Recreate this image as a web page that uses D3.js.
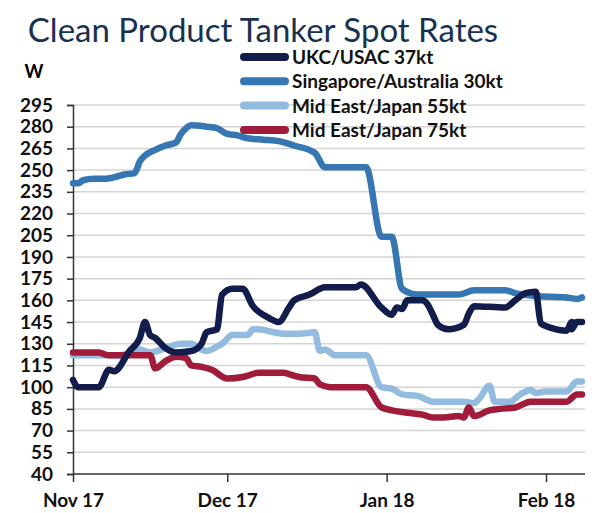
<!DOCTYPE html>
<html>
<head>
<meta charset="utf-8">
<script src="https://cdn.jsdelivr.net/npm/d3@7"></script>
<style>
  body { margin: 0; background: #fff; }
  text { font-family: Lato, "Open Sans", sans-serif; }
</style>
</head>
<body>
<div id="chart"></div>
<script>
// chart values
var seriesNames = ["UKC/USAC 37kt", "Singapore/Australia 30kt", "Mid East/Japan 55kt", "Mid East/Japan 75kt"];
var seriesColors = ["#131d4b", "#3677b3", "#93bbe0", "#a11b3b"];
var yTicks = [40, 55, 70, 85, 100, 115, 130, 145, 160, 175, 190, 205, 220, 235, 250, 265, 280, 295];
var xTickDates = ["2017-11-01", "2017-12-01", "2018-01-01", "2018-02-01"];
var xTickLabels = ["Nov 17", "Dec 17", "Jan 18", "Feb 18"];

var ukc = [
  ["2017-11-01", 105], ["2017-11-02", 100], ["2017-11-06", 100], ["2017-11-08", 112],
  ["2017-11-09", 111], ["2017-11-12", 125], ["2017-11-14", 134], ["2017-11-15", 145],
  ["2017-11-16", 136], ["2017-11-17", 134], ["2017-11-19", 127], ["2017-11-21", 124],
  ["2017-11-24", 125], ["2017-11-26", 130], ["2017-11-27", 138], ["2017-11-29", 140],
  ["2017-11-30", 164], ["2017-12-02", 168], ["2017-12-04", 168], ["2017-12-06", 156],
  ["2017-12-09", 148], ["2017-12-11", 145], ["2017-12-13", 155], ["2017-12-14", 160],
  ["2017-12-17", 164], ["2017-12-20", 169], ["2017-12-26", 169], ["2017-12-27", 171],
  ["2017-12-31", 155], ["2018-01-02", 150], ["2018-01-03", 155], ["2018-01-04", 154],
  ["2018-01-05", 160], ["2018-01-08", 160], ["2018-01-09", 157], ["2018-01-10", 150],
  ["2018-01-11", 143], ["2018-01-13", 140], ["2018-01-16", 143], ["2018-01-17", 151],
  ["2018-01-18", 156], ["2018-01-24", 155], ["2018-01-26", 160], ["2018-01-28", 165],
  ["2018-01-30", 166], ["2018-01-31", 144], ["2018-02-02", 141], ["2018-02-05", 139],
  ["2018-02-06", 145], ["2018-02-06", 140], ["2018-02-07", 145], ["2018-02-08", 145]
];
var singapore = [
  ["2017-11-01", 241], ["2017-11-02", 241], ["2017-11-03", 243], ["2017-11-05", 244],
  ["2017-11-07", 244], ["2017-11-09", 245], ["2017-11-11", 247], ["2017-11-13", 248],
  ["2017-11-14", 256], ["2017-11-15", 260], ["2017-11-17", 264], ["2017-11-19", 267],
  ["2017-11-21", 269], ["2017-11-22", 275], ["2017-11-23", 279], ["2017-11-24", 281],
  ["2017-11-27", 280], ["2017-11-29", 279], ["2017-12-01", 275], ["2017-12-03", 274],
  ["2017-12-05", 272], ["2017-12-08", 271], ["2017-12-11", 270], ["2017-12-14", 267],
  ["2017-12-18", 262], ["2017-12-20", 252], ["2017-12-28", 252], ["2017-12-31", 204],
  ["2018-01-02", 204], ["2018-01-04", 168], ["2018-01-07", 164], ["2018-01-15", 164],
  ["2018-01-18", 167], ["2018-01-24", 167], ["2018-01-26", 165], ["2018-01-30", 163],
  ["2018-02-05", 162], ["2018-02-07", 161], ["2018-02-08", 162]
];
var me55 = [
  ["2017-11-01", 122], ["2017-11-10", 122], ["2017-11-14", 126], ["2017-11-16", 124],
  ["2017-11-19", 127], ["2017-11-22", 130], ["2017-11-24", 130], ["2017-11-26", 126],
  ["2017-11-27", 125], ["2017-11-29", 128], ["2017-11-30", 130], ["2017-12-02", 136],
  ["2017-12-05", 136], ["2017-12-06", 140], ["2017-12-07", 140], ["2017-12-10", 138],
  ["2017-12-12", 137], ["2017-12-15", 137], ["2017-12-18", 138], ["2017-12-19", 125],
  ["2017-12-20", 126], ["2017-12-22", 122], ["2017-12-28", 122], ["2017-12-31", 100],
  ["2018-01-02", 99], ["2018-01-04", 95], ["2018-01-07", 94], ["2018-01-10", 90],
  ["2018-01-16", 90], ["2018-01-18", 89], ["2018-01-19", 92], ["2018-01-21", 101],
  ["2018-01-22", 90], ["2018-01-25", 90], ["2018-01-27", 95], ["2018-01-29", 98],
  ["2018-01-30", 96], ["2018-02-01", 97], ["2018-02-05", 97], ["2018-02-07", 104],
  ["2018-02-08", 104]
];
var me75 = [
  ["2017-11-01", 124], ["2017-11-06", 124], ["2017-11-08", 122], ["2017-11-16", 122],
  ["2017-11-17", 113], ["2017-11-19", 118], ["2017-11-21", 121], ["2017-11-23", 120],
  ["2017-11-24", 115], ["2017-11-26", 114], ["2017-11-28", 112], ["2017-12-01", 106],
  ["2017-12-04", 107], ["2017-12-05", 108], ["2017-12-07", 110], ["2017-12-12", 110],
  ["2017-12-13", 109], ["2017-12-15", 107], ["2017-12-18", 106], ["2017-12-19", 102],
  ["2017-12-21", 100], ["2017-12-28", 100], ["2017-12-31", 86], ["2018-01-02", 84],
  ["2018-01-06", 82], ["2018-01-08", 81], ["2018-01-10", 79], ["2018-01-12", 79],
  ["2018-01-15", 80], ["2018-01-16", 79], ["2018-01-17", 86], ["2018-01-18", 80],
  ["2018-01-21", 84], ["2018-01-23", 85], ["2018-01-26", 86], ["2018-01-29", 90],
  ["2018-02-05", 90], ["2018-02-07", 95], ["2018-02-08", 95]
];
var allSeries = [ukc, singapore, me55, me75];

var w = 599, h = 513;
var parse = d3.timeParse("%Y-%m-%d");

var svg = d3.select("#chart").append("svg")
  .attr("width", w)
  .attr("height", h);

var x = d3.scaleTime()
  .domain([parse("2017-11-01"), parse("2018-02-08")])
  .range([73, 582]);
var y = d3.scaleLinear()
  .domain([40, 295])
  .range([474, 105]);

// title
svg.append("text")
  .attr("x", 263).attr("y", 42)
  .attr("text-anchor", "middle")
  .style("font-size", "33px")
  .style("fill", "#17324f")
  .text("Clean Product Tanker Spot Rates");

svg.append("text")
  .attr("x", 34).attr("y", 78)
  .attr("text-anchor", "middle")
  .style("font-size", "18px").style("font-weight", "bold")
  .text("W");

// gridlines
svg.append("g").selectAll("line")
  .data(yTicks.slice(1))
  .enter().append("line")
  .attr("x1", 73).attr("x2", 585)
  .attr("y1", function(d) { return y(d); })
  .attr("y2", function(d) { return y(d); })
  .attr("stroke", "#d4d4d4")
  .attr("stroke-width", 1.5);

// y axis
var yAxis = svg.append("g")
  .attr("transform", "translate(73,0)")
  .call(d3.axisLeft(y).tickValues(yTicks).tickSize(6).tickPadding(14));
yAxis.select(".domain").attr("stroke", "#333").attr("stroke-width", 1.5);
yAxis.selectAll(".tick line").attr("stroke", "#333").attr("stroke-width", 1.5);
yAxis.selectAll("text")
  .style("font-family", "Lato, sans-serif")
  .style("font-size", "19px").style("font-weight", "bold")
  .attr("fill", "#111");

// x axis
var xAxis = svg.append("g")
  .attr("transform", "translate(0,474)")
  .call(d3.axisBottom(x)
    .tickValues(xTickDates.map(parse))
    .tickFormat(function(d, i) { return xTickLabels[i]; })
    .tickSize(8).tickPadding(12));
xAxis.select(".domain").remove();
xAxis.append("line")
  .attr("x1", 73).attr("x2", 585)
  .attr("stroke", "#333").attr("stroke-width", 1.5);
xAxis.selectAll(".tick line").attr("stroke", "#333").attr("stroke-width", 1.5);
xAxis.selectAll("text")
  .style("font-family", "Lato, sans-serif")
  .style("font-size", "19px").style("font-weight", "bold")
  .attr("fill", "#111");

// lines
var line = d3.line()
  .x(function(d) { return x(parse(d[0])); })
  .y(function(d) { return y(d[1]); })
  .curve(d3.curveMonotoneX);

[2, 3, 1, 0].forEach(function(i) {
  svg.append("path")
    .datum(allSeries[i])
    .attr("d", line)
    .attr("fill", "none")
    .attr("stroke", seriesColors[i])
    .attr("stroke-width", 6.5)
    .attr("stroke-linejoin", "round")
    .attr("stroke-linecap", "round");
});

// legend
var legend = svg.append("g").selectAll("g")
  .data(seriesNames)
  .enter().append("g")
  .attr("transform", function(d, i) { return "translate(0," + (57 + i * 24.3) + ")"; });
legend.append("line")
  .attr("x1", 244).attr("x2", 285)
  .attr("stroke", function(d, i) { return seriesColors[i]; })
  .attr("stroke-width", 8)
  .attr("stroke-linecap", "round");
legend.append("text")
  .attr("x", 292).attr("y", 7)
  .style("font-size", "19px").style("font-weight", "bold")
  .style("fill", "#111")
  .text(function(d) { return d; });
</script>
</body>
</html>
